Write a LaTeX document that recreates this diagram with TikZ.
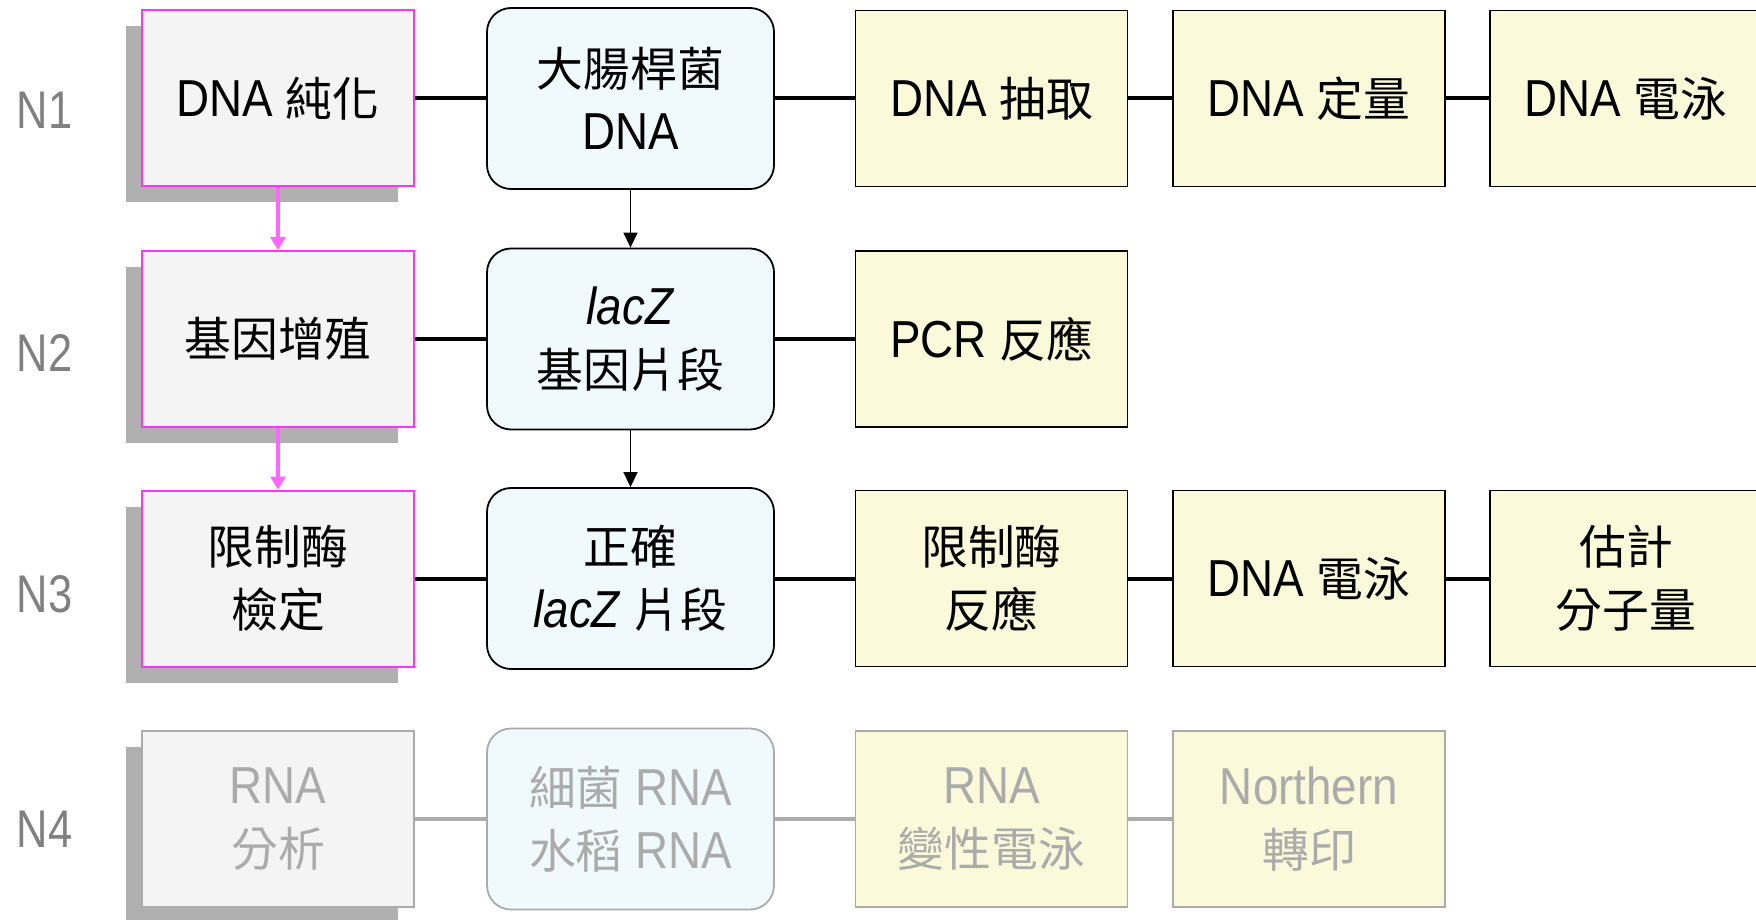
\documentclass[tikz,border=0pt]{standalone}
\usepackage{fontspec}
\setmainfont[FakeStretch=0.88]{Liberation Sans}
\newfontfamily\cjk[Scale=0.9]{Noto Sans CJK TC}
\newfontfamily\labelfont[FakeStretch=0.82]{Liberation Sans}
\usetikzlibrary{arrows.meta,shadows}
\newcommand\zh[1]{{\cjk #1}}
\definecolor{pinkline}{HTML}{FF33FF}
\definecolor{pinkarrow}{HTML}{FF66FF}
\definecolor{greyfill}{HTML}{F4F4F4}
\definecolor{shade}{HTML}{B0B0B0}
\definecolor{bluefill}{HTML}{F0FAFD}
\definecolor{yellowfill}{HTML}{FAFADA}
\definecolor{fade}{HTML}{ABABAB}
\definecolor{labelgrey}{HTML}{808080}
\tikzset{
  base/.style={inner sep=0pt, align=center, font=\fontsize{52}{63}\selectfont},
  leftbox/.style={base, rectangle, minimum width=272pt, minimum height=176pt,
    fill=greyfill, draw=pinkline, line width=2pt,
    drop shadow={shadow xshift=-16pt, shadow yshift=-16pt, opacity=1, fill=shade}},
  midbox/.style={base, rectangle, rounded corners=24pt, minimum width=287pt,
    minimum height=181pt, fill=bluefill, draw=black, line width=1.8pt},
  sidebox/.style={base, rectangle, minimum width=272pt, minimum height=176pt,
    fill=yellowfill, draw=black, line width=1.4pt},
  faded/.style={draw=fade, text=fade},
  link/.style={line width=4pt, black},
  fadelink/.style={line width=4pt, fade},
  pinkdown/.style={line width=3.2pt, pinkarrow, -{Triangle[width=15pt,length=13pt]}},
  bluedown/.style={line width=1.5pt, black, -{Triangle[width=14pt,length=15pt]}},
  rowlabel/.style={anchor=base west, inner sep=0pt,
    font=\labelfont\fontsize{53}{60}\selectfont, text=labelgrey}
}
\begin{document}
\begin{tikzpicture}[x=1pt,y=-1pt]
\clip (0,0) rectangle (1756,920);
\useasboundingbox (0,0) rectangle (1756,920);

% row labels
\node[rowlabel] (n1) at (16.5,129) {N1};
\node[rowlabel] (n2) at (16.5,371) {N2};
\node[rowlabel] (n3) at (16.5,612) {N3};
\node[rowlabel] (n4) at (16.5,847) {N4};

% row 1
\node[leftbox] (a1) at (278,98.5) {DNA \zh{純化}};
\node[midbox]  (b1) at (630.5,98.5) {\zh{大腸桿菌}\\DNA};
\node[sidebox] (c1) at (991.5,98.5) {DNA \zh{抽取}};
\node[sidebox] (d1) at (1309,98.5) {DNA \zh{定量}};
\node[sidebox] (e1) at (1626,98.5) {DNA \zh{電泳}};

% row 2
\node[leftbox] (a2) at (278,339) {\zh{基因增殖}};
\node[midbox]  (b2) at (630.5,339) {\textit{lacZ}\\\zh{基因片段}};
\node[sidebox] (c2) at (991.5,339) {PCR \zh{反應}};

% row 3
\node[leftbox] (a3) at (278,578.5) {\zh{限制酶}\\\zh{檢定}};
\node[midbox]  (b3) at (630.5,578.5) {\zh{正確}\\\textit{lacZ} \zh{片段}};
\node[sidebox] (c3) at (991.5,578.5) {\zh{限制酶}\\\zh{反應}};
\node[sidebox] (d3) at (1309,578.5) {DNA \zh{電泳}};
\node[sidebox] (e3) at (1626,578.5) {\zh{估計}\\\zh{分子量}};

% row 4 (greyed out)
\node[leftbox, faded] (a4) at (278,819) {RNA\\\zh{分析}};
\node[midbox, faded]  (b4) at (630.5,819) {\zh{細菌} RNA\\\zh{水稻} RNA};
\node[sidebox, faded] (c4) at (991.5,819) {RNA\\\zh{變性電泳}};
\node[sidebox, faded] (d4) at (1309,819) {Northern\\\zh{轉印}};

% horizontal links
\draw[link] (a1) -- (b1);
\draw[link] (b1) -- (c1);
\draw[link] (c1) -- (d1);
\draw[link] (d1) -- (e1);
\draw[link] (a2) -- (b2);
\draw[link] (b2) -- (c2);
\draw[link] (a3) -- (b3);
\draw[link] (b3) -- (c3);
\draw[link] (c3) -- (d3);
\draw[link] (d3) -- (e3);
\draw[fadelink] (a4) -- (b4);
\draw[fadelink] (b4) -- (c4);
\draw[fadelink] (c4) -- (d4);

% vertical arrows
\draw[pinkdown] (a1.south) -- (a2.north);
\draw[pinkdown] (a2.south) -- (a3.north);
\draw[bluedown] (b1.south) -- (b2.north);
\draw[bluedown] (b2.south) -- (b3.north);
\end{tikzpicture}
\end{document}
